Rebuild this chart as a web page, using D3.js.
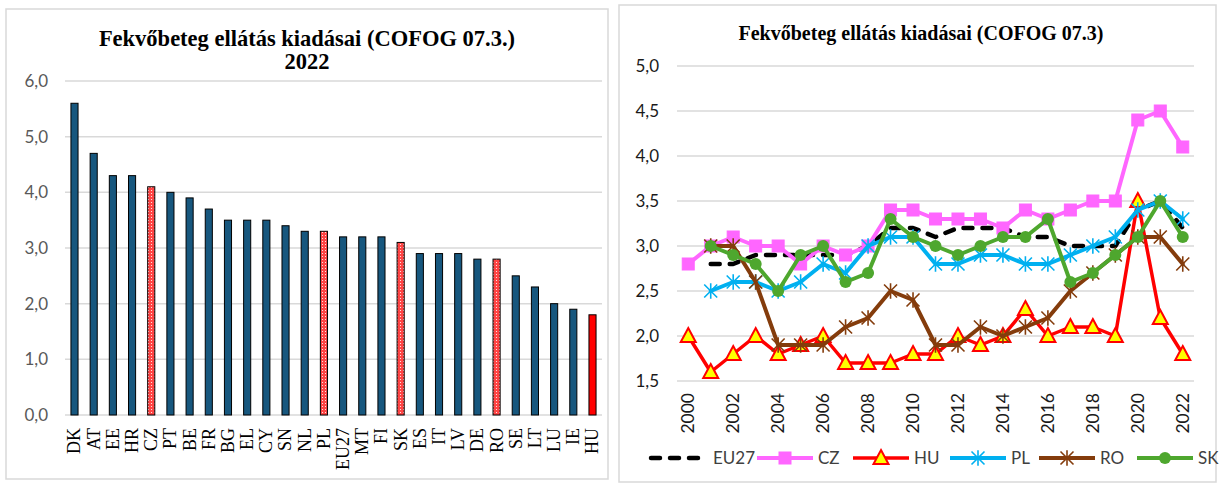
<!DOCTYPE html>
<meta charset="utf-8">
<style>
body { margin: 0; background: #fff; }
svg { display: block; }
.title { font-family: "Liberation Serif", "Times New Roman", serif; font-weight: bold; fill: #000; }
.box { fill: #fff; stroke: #d9d9d9; stroke-width: 1.5; }
.grid line { stroke: #d9d9d9; stroke-width: 1.5; }
</style>
<svg width="1219" height="484"></svg>
<script src="https://d3js.org/d3.v7.min.js"></script>
<script>

// ---- left chart: 2022 by country ----
var countries = ["DK","AT","EE","HR","CZ","PT","BE","FR","BG","EL","CY","SN","NL","PL","EU27","MT","FI","SK","ES","IT","LV","DE","RO","SE","LT","LU","IE","HU"];
var values2022 = [5.6,4.7,4.3,4.3,4.1,4.0,3.9,3.7,3.5,3.5,3.5,3.4,3.3,3.3,3.2,3.2,3.2,3.1,2.9,2.9,2.9,2.8,2.8,2.5,2.3,2.0,1.9,1.8];
var highlighted = ["CZ","PL","SK","RO"];
var leftTicks = [0,1,2,3,4,5,6];

// ---- right chart: time series ----
var years = d3.range(2000, 2023).map(String);
var eu27 = [null,2.8,2.8,2.9,2.9,2.9,2.9,2.9,3.0,3.2,3.2,3.1,3.2,3.2,3.2,3.1,3.1,3.0,3.0,3.0,3.4,3.5,3.2];
var cz   = [2.8,3.0,3.1,3.0,3.0,2.8,3.0,2.9,3.0,3.4,3.4,3.3,3.3,3.3,3.2,3.4,3.3,3.4,3.5,3.5,4.4,4.5,4.1];
var hu   = [2.0,1.6,1.8,2.0,1.8,1.9,2.0,1.7,1.7,1.7,1.8,1.8,2.0,1.9,2.0,2.3,2.0,2.1,2.1,2.0,3.5,2.2,1.8];
var pl   = [null,2.5,2.6,2.6,2.5,2.6,2.8,2.7,3.0,3.1,3.1,2.8,2.8,2.9,2.9,2.8,2.8,2.9,3.0,3.1,3.4,3.5,3.3];
var ro   = [null,3.0,3.0,2.6,1.9,1.9,1.9,2.1,2.2,2.5,2.4,1.9,1.9,2.1,2.0,2.1,2.2,2.5,2.7,2.9,3.1,3.1,2.8];
var sk   = [null,3.0,2.9,2.8,2.5,2.9,3.0,2.6,2.7,3.3,3.1,3.0,2.9,3.0,3.1,3.1,3.3,2.6,2.7,2.9,3.1,3.5,3.1];
var rightTicks = [1.5,2.0,2.5,3.0,3.5,4.0,4.5,5.0];

var series = [
  {name: "EU27", data: eu27, color: "#000000", width: 4.5, dash: "9,10", marker: null},
  {name: "CZ",   data: cz,   color: "#ff66ff", width: 4,   marker: "square"},
  {name: "HU",   data: hu,   color: "#ff0000", width: 3.5, marker: "triangle"},
  {name: "PL",   data: pl,   color: "#00b0f0", width: 4,   marker: "star"},
  {name: "RO",   data: ro,   color: "#843c0c", width: 4,   marker: "star"},
  {name: "SK",   data: sk,   color: "#4ea72e", width: 4,   marker: "circle"}
];

var svg = d3.select("svg");
var fmt = function(d) { return d3.format(".1f")(d).replace(".", ","); };

var defs = svg.append("defs");
var pat = defs.append("pattern")
    .attr("id", "dots")
    .attr("width", 3).attr("height", 3)
    .attr("patternUnits", "userSpaceOnUse");
pat.append("rect").attr("width", 3).attr("height", 3).attr("fill", "#ff4545");
pat.append("rect").attr("x", 1).attr("y", 1).attr("width", 1).attr("height", 1).attr("fill", "#ffe0e0");

// ================= LEFT =================
var L = svg.append("g");
L.append("rect").attr("class", "box").attr("x", 6).attr("y", 9).attr("width", 602).attr("height", 470);

L.append("text").attr("class", "title")
    .attr("x", 307).attr("y", 46).attr("text-anchor", "middle")
    .attr("font-size", 22.5)
    .text("Fekvőbeteg ellátás kiadásai (COFOG 07.3.)");
L.append("text").attr("class", "title")
    .attr("x", 307).attr("y", 69).attr("text-anchor", "middle")
    .attr("font-size", 22.5)
    .text("2022");

var xl = d3.scaleBand().domain(countries).range([65, 602]).paddingInner(0.63).paddingOuter(0.31);
var yl = d3.scaleLinear().domain([0, 6]).range([415, 81]);

L.append("g").attr("class", "grid")
  .selectAll("line").data(leftTicks).enter().append("line")
    .attr("x1", 65).attr("x2", 602)
    .attr("y1", function(d) { return yl(d); }).attr("y2", function(d) { return yl(d); });

var ylAxis = L.append("g")
    .attr("transform", "translate(48,0)")
    .call(d3.axisLeft(yl).tickValues(leftTicks).tickFormat(fmt).tickSize(0).tickPadding(0));
ylAxis.select(".domain").remove();
ylAxis.selectAll("text")
    .attr("font-family", "Lato, sans-serif").attr("font-size", 17).attr("fill", "#595959");

L.append("g").selectAll("rect").data(countries).enter().append("rect")
    .attr("x", function(d) { return xl(d); })
    .attr("y", function(d, i) { return yl(values2022[i]); })
    .attr("width", xl.bandwidth())
    .attr("height", function(d, i) { return yl(0) - yl(values2022[i]); })
    .attr("fill", function(d) {
      if (d === "HU") return "#ff0000";
      if (highlighted.indexOf(d) >= 0) return "url(#dots)";
      return "#17577e";
    })
    .attr("stroke", "#000").attr("stroke-width", 1);

var xlAxis = L.append("g")
    .attr("transform", "translate(0,428)")
    .call(d3.axisBottom(xl).tickSize(0).tickPadding(0));
xlAxis.select(".domain").remove();
xlAxis.selectAll("text")
    .attr("font-family", "Liberation Serif, serif").attr("font-size", 18).attr("fill", "#000")
    .attr("transform", "rotate(-90)")
    .attr("text-anchor", "end")
    .attr("x", 0).attr("y", 0).attr("dy", "0.33em");

// ================= RIGHT =================
var R = svg.append("g");
R.append("rect").attr("class", "box").attr("x", 619).attr("y", 5).attr("width", 597).attr("height", 477);

R.append("text").attr("class", "title")
    .attr("x", 921).attr("y", 40).attr("text-anchor", "middle")
    .attr("font-size", 20)
    .text("Fekvőbeteg ellátás kiadásai (COFOG 07.3)");

var xr = d3.scaleBand().domain(years).range([677, 1194]);
var yr = d3.scaleLinear().domain([1.5, 5]).range([381, 66]);
var cx = function(d) { return xr(d) + xr.bandwidth() / 2; };

R.append("g").attr("class", "grid")
  .selectAll("line").data(rightTicks).enter().append("line")
    .attr("x1", 677).attr("x2", 1194)
    .attr("y1", function(d) { return yr(d); }).attr("y2", function(d) { return yr(d); });

var yrAxis = R.append("g")
    .attr("transform", "translate(659,0)")
    .call(d3.axisLeft(yr).tickValues(rightTicks).tickFormat(fmt).tickSize(0).tickPadding(0));
yrAxis.select(".domain").remove();
yrAxis.selectAll("text")
    .attr("font-family", "Lato, sans-serif").attr("font-size", 17).attr("fill", "#1a1a1a");

var xrAxis = R.append("g")
    .attr("transform", "translate(0,393)")
    .call(d3.axisBottom(xr).tickValues(years.filter(function(d, i) { return i % 2 === 0; })).tickSize(0).tickPadding(0));
xrAxis.select(".domain").remove();
xrAxis.selectAll("text")
    .attr("font-family", "Lato, sans-serif").attr("font-size", 17.5).attr("fill", "#1a1a1a")
    .attr("transform", "rotate(-90)")
    .attr("text-anchor", "end")
    .attr("x", 0).attr("y", 0).attr("dy", "0.35em");

function drawMarker(g, type, color, x, y) {
  if (type === "square") {
    g.append("rect").attr("x", x - 6).attr("y", y - 6).attr("width", 12).attr("height", 12)
      .attr("fill", color).attr("stroke", color).attr("stroke-width", 1);
  } else if (type === "triangle") {
    g.append("path").attr("d", "M" + x + "," + (y - 8) + "L" + (x + 7.5) + "," + (y + 6) + "L" + (x - 7.5) + "," + (y + 6) + "Z")
      .attr("fill", "#ffff00").attr("stroke", "#ff0000").attr("stroke-width", 2);
  } else if (type === "circle") {
    g.append("circle").attr("cx", x).attr("cy", y).attr("r", 6).attr("fill", color);
  } else if (type === "star") {
    var r = 6.5;
    g.append("path")
      .attr("d", "M" + (x - r) + "," + (y - r) + "L" + (x + r) + "," + (y + r) +
                 "M" + (x - r) + "," + (y + r) + "L" + (x + r) + "," + (y - r) +
                 "M" + x + "," + (y - r * 1.2) + "L" + x + "," + (y + r * 1.2))
      .attr("stroke", color).attr("stroke-width", 1.6).attr("fill", "none");
  }
}

series.forEach(function(s) {
  var pts = years.map(function(yy, i) { return {year: yy, v: s.data[i]}; });
  var line = d3.line()
      .defined(function(d) { return d.v != null; })
      .x(function(d) { return cx(d.year); })
      .y(function(d) { return yr(d.v); });
  var g = R.append("g");
  g.append("path").datum(pts)
      .attr("d", line)
      .attr("fill", "none")
      .attr("stroke", s.color)
      .attr("stroke-width", s.width)
      .attr("stroke-linejoin", "round")
      .attr("stroke-linecap", "round")
      .attr("stroke-dasharray", s.dash || null);
  if (s.marker) {
    pts.filter(function(d) { return d.v != null; }).forEach(function(d) {
      drawMarker(g, s.marker, s.color, cx(d.year), yr(d.v));
    });
  }
});

// legend
var legendX = [649, 757, 853, 950, 1039, 1137];
var lg = R.append("g").attr("transform", "translate(0,458)");
series.forEach(function(s, i) {
  var x0 = legendX[i], x1 = x0 + 56;
  var it = lg.append("g");
  it.append("line").attr("x1", x0 + (s.dash ? 2 : 0)).attr("x2", x1 - (s.dash ? 4 : 0)).attr("y1", 0).attr("y2", 0)
    .attr("stroke", s.color).attr("stroke-width", s.width)
    .attr("stroke-linecap", s.dash ? "round" : "butt")
    .attr("stroke-dasharray", s.dash || null);
  if (s.marker) drawMarker(it, s.marker, s.color, (x0 + x1) / 2, 0);
  it.append("text").attr("x", x1 + (s.dash ? 8 : 5)).attr("y", 0).attr("dy", "0.35em")
    .attr("font-family", "Lato, sans-serif").attr("font-size", 17).attr("fill", "#404040")
    .text(s.name);
});

</script>
